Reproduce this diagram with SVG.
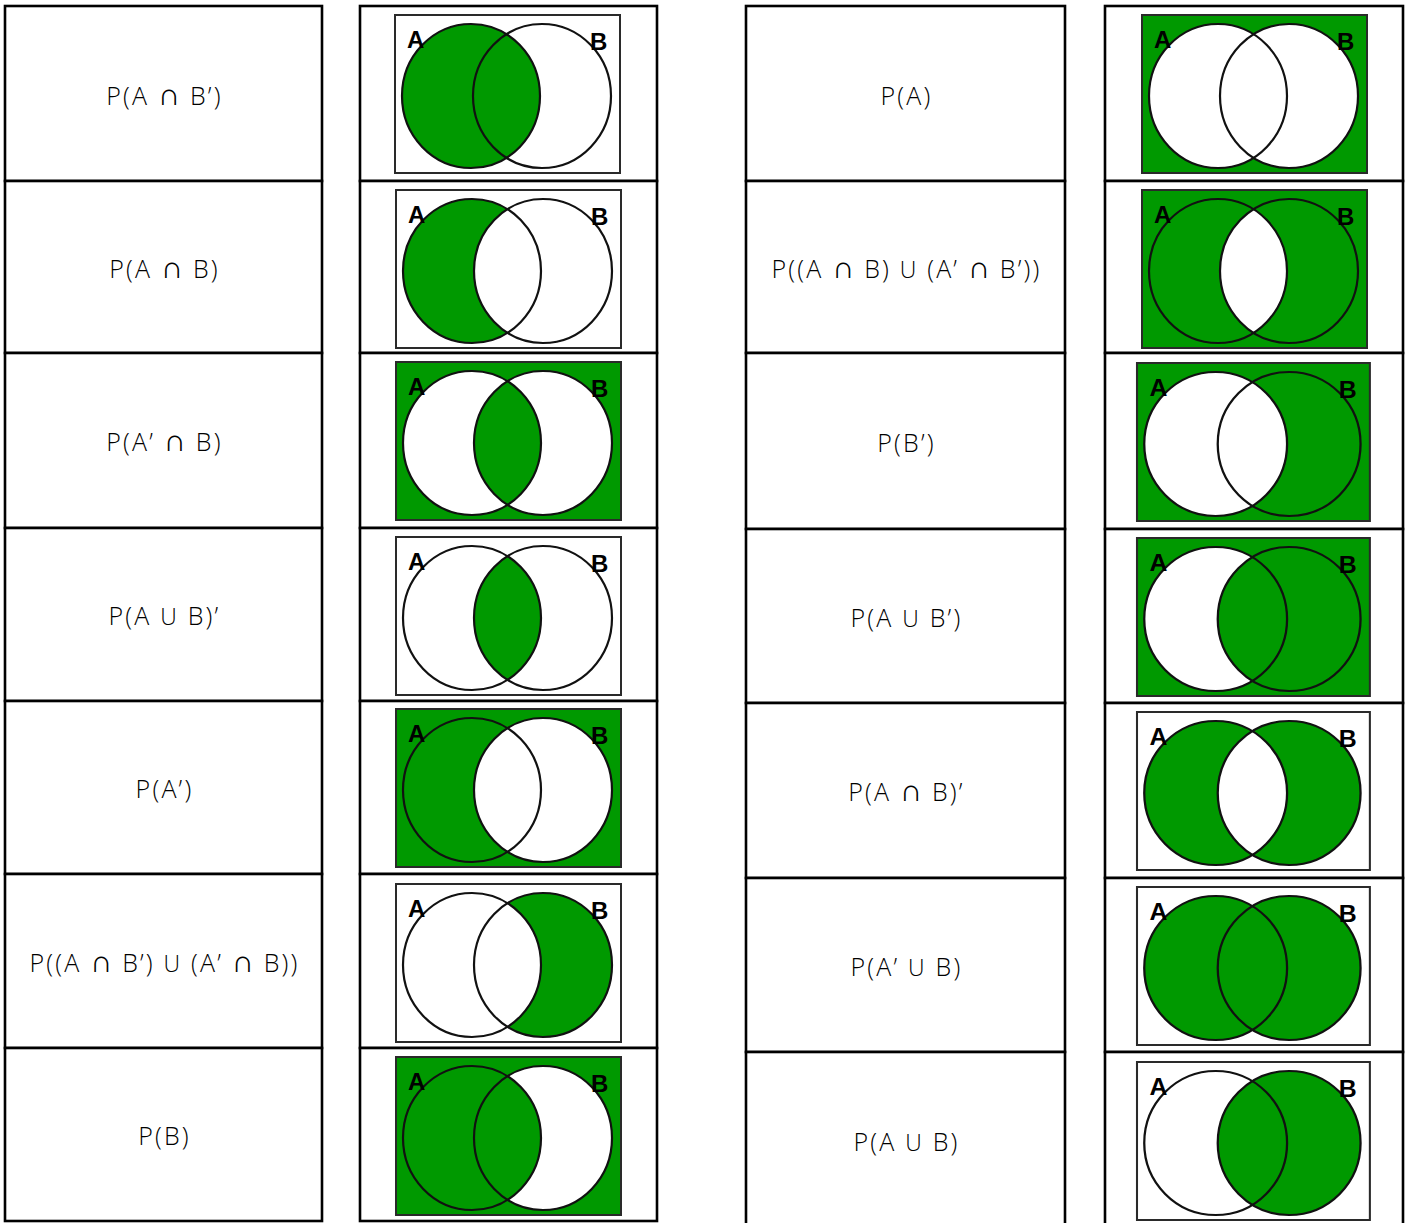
<svg xmlns="http://www.w3.org/2000/svg" xmlns:xlink="http://www.w3.org/1999/xlink" width="1405" height="1223" viewBox="0 0 1405 1223">
<style>
.cell{fill:#fff;stroke:#000;stroke-width:2.6}
.lbl{font-family:"Open Sans","DejaVu Sans","Liberation Sans",sans-serif;font-weight:300;font-size:25px;letter-spacing:2.2px;fill:#000;text-anchor:middle}
.n{font-size:31px;letter-spacing:1px}
.u{font-size:23px}
.frame{stroke:#2a2a2a;stroke-width:2}
.g{fill:#009900}
.w{fill:#ffffff}
.ol{fill:none;stroke:#111;stroke-width:2.2}
.set{font-family:"Liberation Sans",Arial,sans-serif;font-weight:bold;font-size:24px;fill:#000}
</style>
<defs>
<path id="aonly" d="M111.5,19.26 A69,72 0 1 0 111.5,142.74 A69,72 0 0 1 111.5,19.26 Z"/>
<path id="lens" d="M111.5,19.26 A69,72 0 0 1 111.5,142.74 A69,72 0 0 1 111.5,19.26 Z"/>
<path id="bonly" d="M111.5,19.26 A69,72 0 1 1 111.5,142.74 A69,72 0 0 0 111.5,19.26 Z"/>
<g id="outl">
<ellipse class="ol" cx="76" cy="81" rx="69" ry="72"/>
<ellipse class="ol" cx="147" cy="81" rx="69" ry="72"/>
<text class="set" x="12" y="33">A</text>
<text class="set" x="195" y="35">B</text>
</g>
</defs>
<g id="connectors"></g>
<g id="table-left">
<rect class="cell" x="5" y="6" width="317" height="175"/>
<rect class="cell" x="5" y="181" width="317" height="172"/>
<rect class="cell" x="5" y="353" width="317" height="175"/>
<rect class="cell" x="5" y="528" width="317" height="173"/>
<rect class="cell" x="5" y="701" width="317" height="173"/>
<rect class="cell" x="5" y="874" width="317" height="174"/>
<rect class="cell" x="5" y="1048" width="317" height="173"/>
<rect class="cell" x="360" y="6" width="297" height="175"/>
<rect class="cell" x="360" y="181" width="297" height="172"/>
<rect class="cell" x="360" y="353" width="297" height="175"/>
<rect class="cell" x="360" y="528" width="297" height="173"/>
<rect class="cell" x="360" y="701" width="297" height="173"/>
<rect class="cell" x="360" y="874" width="297" height="174"/>
<rect class="cell" x="360" y="1048" width="297" height="173"/>
</g>
<g id="table-right">
<rect class="cell" x="746" y="6" width="319" height="175"/>
<rect class="cell" x="746" y="181" width="319" height="172"/>
<rect class="cell" x="746" y="353" width="319" height="176"/>
<rect class="cell" x="746" y="529" width="319" height="174"/>
<rect class="cell" x="746" y="703" width="319" height="175"/>
<rect class="cell" x="746" y="878" width="319" height="174"/>
<rect class="cell" x="746" y="1052" width="319" height="176"/>
<rect class="cell" x="1105" y="6" width="298" height="175"/>
<rect class="cell" x="1105" y="181" width="298" height="172"/>
<rect class="cell" x="1105" y="353" width="298" height="176"/>
<rect class="cell" x="1105" y="529" width="298" height="174"/>
<rect class="cell" x="1105" y="703" width="298" height="175"/>
<rect class="cell" x="1105" y="878" width="298" height="174"/>
<rect class="cell" x="1105" y="1052" width="298" height="176"/>
</g>
<g id="labels">
<text class="lbl" x="164.5" y="105">P(A <tspan class="n">∩</tspan> B’)</text>
<text class="lbl" x="164.5" y="278">P(A <tspan class="n">∩</tspan> B)</text>
<text class="lbl" x="164.5" y="451">P(A’ <tspan class="n">∩</tspan> B)</text>
<text class="lbl" x="164.5" y="625">P(A <tspan class="u">U</tspan> B)’</text>
<text class="lbl" x="164.5" y="798">P(A’)</text>
<text class="lbl" x="164.5" y="972">P((A <tspan class="n">∩</tspan> B’) <tspan class="u">U</tspan> (A’ <tspan class="n">∩</tspan> B))</text>
<text class="lbl" x="164.5" y="1145">P(B)</text>
<text class="lbl" x="906.5" y="105">P(A)</text>
<text class="lbl" x="906.5" y="278">P((A <tspan class="n">∩</tspan> B) <tspan class="u">U</tspan> (A’ <tspan class="n">∩</tspan> B’))</text>
<text class="lbl" x="906.5" y="452">P(B’)</text>
<text class="lbl" x="906.5" y="627">P(A <tspan class="u">U</tspan> B’)</text>
<text class="lbl" x="906.5" y="801">P(A <tspan class="n">∩</tspan> B)’</text>
<text class="lbl" x="906.5" y="976">P(A’ <tspan class="u">U</tspan> B)</text>
<text class="lbl" x="906.5" y="1151">P(A <tspan class="u">U</tspan> B)</text>
</g>
<g id="venn-L1" transform="translate(395,15)"><rect class="frame w" width="225" height="158"/><use href="#aonly" xlink:href="#aonly" class="g"/><use href="#lens" xlink:href="#lens" class="g"/><use href="#bonly" xlink:href="#bonly" class="w"/><use href="#outl" xlink:href="#outl"/></g>
<g id="venn-L2" transform="translate(396,190)"><rect class="frame w" width="225" height="158"/><use href="#aonly" xlink:href="#aonly" class="g"/><use href="#lens" xlink:href="#lens" class="w"/><use href="#bonly" xlink:href="#bonly" class="w"/><use href="#outl" xlink:href="#outl"/></g>
<g id="venn-L3" transform="translate(396,362)"><rect class="frame g" width="225" height="158"/><use href="#aonly" xlink:href="#aonly" class="w"/><use href="#lens" xlink:href="#lens" class="g"/><use href="#bonly" xlink:href="#bonly" class="w"/><use href="#outl" xlink:href="#outl"/></g>
<g id="venn-L4" transform="translate(396,537)"><rect class="frame w" width="225" height="158"/><use href="#aonly" xlink:href="#aonly" class="w"/><use href="#lens" xlink:href="#lens" class="g"/><use href="#bonly" xlink:href="#bonly" class="w"/><use href="#outl" xlink:href="#outl"/></g>
<g id="venn-L5" transform="translate(396,709)"><rect class="frame g" width="225" height="158"/><use href="#aonly" xlink:href="#aonly" class="g"/><use href="#lens" xlink:href="#lens" class="w"/><use href="#bonly" xlink:href="#bonly" class="w"/><use href="#outl" xlink:href="#outl"/></g>
<g id="venn-L6" transform="translate(396,884)"><rect class="frame w" width="225" height="158"/><use href="#aonly" xlink:href="#aonly" class="w"/><use href="#lens" xlink:href="#lens" class="w"/><use href="#bonly" xlink:href="#bonly" class="g"/><use href="#outl" xlink:href="#outl"/></g>
<g id="venn-L7" transform="translate(396,1057)"><rect class="frame g" width="225" height="158"/><use href="#aonly" xlink:href="#aonly" class="g"/><use href="#lens" xlink:href="#lens" class="g"/><use href="#bonly" xlink:href="#bonly" class="w"/><use href="#outl" xlink:href="#outl"/></g>
<g id="venn-R1" transform="translate(1142,15)"><rect class="frame g" width="225" height="158"/><use href="#aonly" xlink:href="#aonly" class="w"/><use href="#lens" xlink:href="#lens" class="w"/><use href="#bonly" xlink:href="#bonly" class="w"/><use href="#outl" xlink:href="#outl"/></g>
<g id="venn-R2" transform="translate(1142,190)"><rect class="frame g" width="225" height="158"/><use href="#aonly" xlink:href="#aonly" class="g"/><use href="#lens" xlink:href="#lens" class="w"/><use href="#bonly" xlink:href="#bonly" class="g"/><use href="#outl" xlink:href="#outl"/></g>
<g id="venn-R3" transform="translate(1137,363) scale(1.035,1)"><rect class="frame g" width="225" height="158"/><use href="#aonly" xlink:href="#aonly" class="w"/><use href="#lens" xlink:href="#lens" class="w"/><use href="#bonly" xlink:href="#bonly" class="g"/><use href="#outl" xlink:href="#outl"/></g>
<g id="venn-R4" transform="translate(1137,538) scale(1.035,1)"><rect class="frame g" width="225" height="158"/><use href="#aonly" xlink:href="#aonly" class="w"/><use href="#lens" xlink:href="#lens" class="g"/><use href="#bonly" xlink:href="#bonly" class="g"/><use href="#outl" xlink:href="#outl"/></g>
<g id="venn-R5" transform="translate(1137,712) scale(1.035,1)"><rect class="frame w" width="225" height="158"/><use href="#aonly" xlink:href="#aonly" class="g"/><use href="#lens" xlink:href="#lens" class="w"/><use href="#bonly" xlink:href="#bonly" class="g"/><use href="#outl" xlink:href="#outl"/></g>
<g id="venn-R6" transform="translate(1137,887) scale(1.035,1)"><rect class="frame w" width="225" height="158"/><use href="#aonly" xlink:href="#aonly" class="g"/><use href="#lens" xlink:href="#lens" class="g"/><use href="#bonly" xlink:href="#bonly" class="g"/><use href="#outl" xlink:href="#outl"/></g>
<g id="venn-R7" transform="translate(1137,1062) scale(1.035,1)"><rect class="frame w" width="225" height="158"/><use href="#aonly" xlink:href="#aonly" class="w"/><use href="#lens" xlink:href="#lens" class="g"/><use href="#bonly" xlink:href="#bonly" class="g"/><use href="#outl" xlink:href="#outl"/></g>
</svg>
